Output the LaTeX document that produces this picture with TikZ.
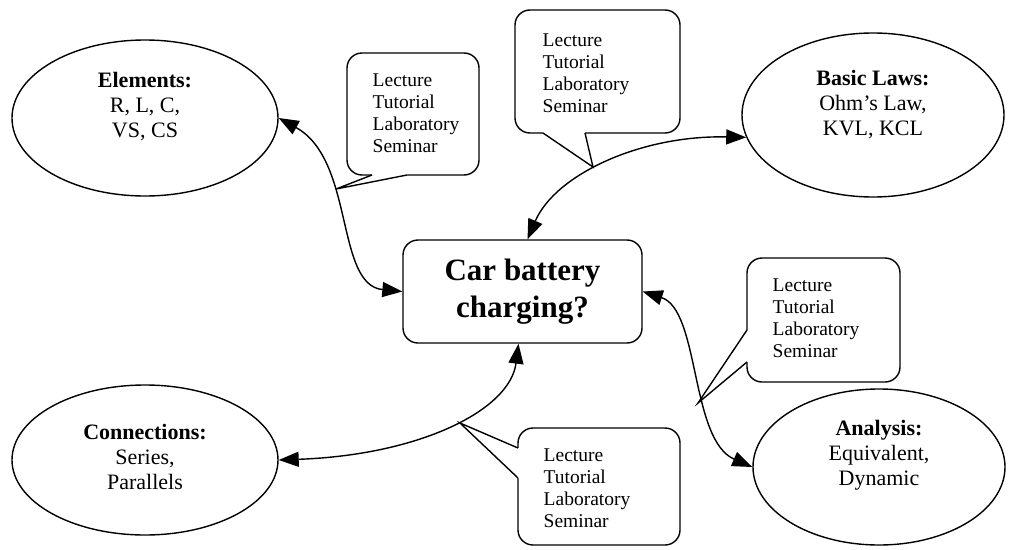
\documentclass[tikz,border=0pt]{standalone}
\usepackage{fontspec}
\setmainfont{Liberation Serif}
\usetikzlibrary{shapes.geometric,arrows.meta}
\begin{document}
\begin{tikzpicture}[x=1pt,y=-1pt,
  line width=1.4pt,
  oval/.style={draw, ellipse, inner sep=0pt},
  ovaltext/.style={align=center, inner sep=0pt, font=\fontsize{22}{25}\selectfont},
  callbox/.style={draw, rounded corners=15pt},
  calltext/.style={anchor=north west, inner sep=0pt, align=left, font=\fontsize{19.5}{22}\selectfont},
  link/.style={{Triangle[length=20pt,width=15pt]}-{Triangle[length=20pt,width=15pt]}},
]
\useasboundingbox (0,0) rectangle (1012,549);

% ellipses
\node[oval, minimum width=266pt, minimum height=156pt] (elem) at (145,118) {};
\node[ovaltext] (elemtxt) at (145,107) {\textbf{Elements:}\\R, L, C,\\VS, CS};

\node[oval, minimum width=262pt, minimum height=164pt] (laws) at (873,115) {};
\node[ovaltext] (lawstxt) at (873,105) {\textbf{Basic Laws:}\\Ohm’s Law,\\KVL, KCL};

\node[oval, minimum width=266pt, minimum height=150pt] (conn) at (145,460) {};
\node[ovaltext] (conntxt) at (145,457) {\textbf{Connections:}\\Series,\\Parallels};

\node[oval, minimum width=252pt, minimum height=156pt] (anal) at (879,467) {};
\node[ovaltext] (analtxt) at (879,455) {\textbf{Analysis:}\\Equivalent,\\Dynamic};

% centre box
\node[draw, rounded corners=15pt, minimum width=239pt, minimum height=103pt,
      align=center, font=\bfseries\fontsize{31}{37}\selectfont] (box) at (522.5,291.5)
      {Car battery\\charging?};

% callout 1 (tail on bottom edge)
\coordinate (tip1) at (336,189);
\draw[callbox] (347,53) rectangle (479,175);
\fill[white] (372,173) -- (372,176) -- (tip1) -- (407,176) -- (407,173) -- cycle;
\draw (372,175) -- (tip1) -- (407,175);
\node[calltext] (c1) at (372,73.5) {Lecture\\Tutorial\\Laboratory\\Seminar};

% callout 2 (tail on bottom edge)
\coordinate (tip2) at (593,167);
\draw[callbox] (515,10) rectangle (680,133);
\fill[white] (543,131) -- (543,134) -- (tip2) -- (585,134) -- (585,131) -- cycle;
\draw (543,133) -- (tip2) -- (585,133);
\node[calltext] (c2) at (542,33.5) {Lecture\\Tutorial\\Laboratory\\Seminar};

% callout 3 (tail on left edge)
\coordinate (tip3) at (698,403);
\draw[callbox] (747,258) rectangle (900,382);
\fill[white] (749,330) -- (746,330) -- (tip3) -- (746,362) -- (749,362) -- cycle;
\draw (747,330) -- (tip3) -- (747,362);
\node[calltext] (c3) at (772,278.5) {Lecture\\Tutorial\\Laboratory\\Seminar};

% callout 4 (tail on left edge)
\coordinate (tip4) at (460,423);
\draw[callbox] (518,428) rectangle (680,545);
\fill[white] (520,448) -- (517,448) -- (tip4) -- (517,478) -- (520,478) -- cycle;
\draw (518,448) -- (tip4) -- (518,478);
\node[calltext] (c4) at (543,448.5) {Lecture\\Tutorial\\Laboratory\\Seminar};

% connectors
\draw[link] (elem.east) .. controls (355,160) and (335,285) .. (box.west);
\draw[link] ([xshift=5pt]box.north) .. controls (555,175) and (640,135) .. (laws.190);
\draw[link] (box.east) .. controls (700,310) and (690,440) .. (anal.west);
\draw[link] ([xshift=-4pt]box.south) .. controls (510,410) and (420,455) .. (conn.east);
\end{tikzpicture}
\end{document}
